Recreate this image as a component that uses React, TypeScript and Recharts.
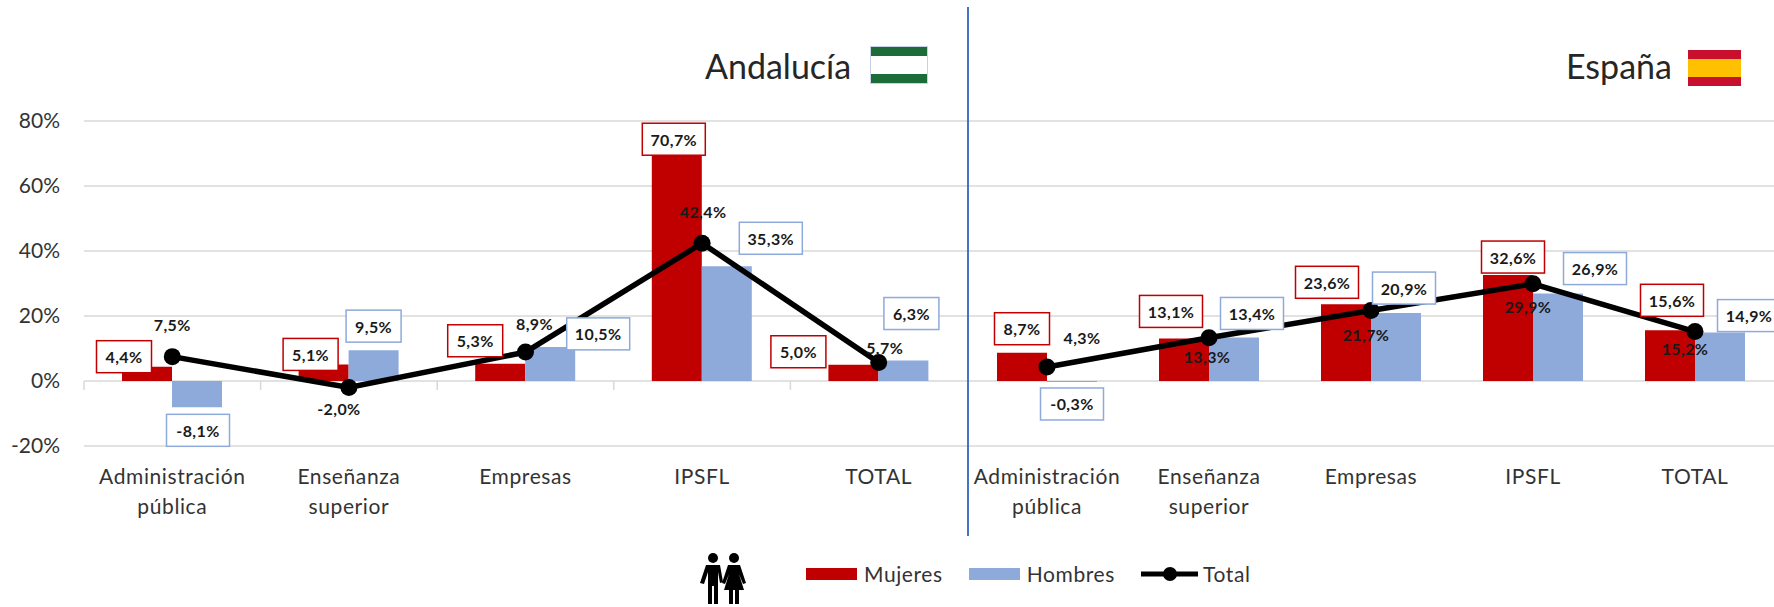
import {
  Bar,
  CartesianGrid,
  ComposedChart,
  LabelList,
  Legend,
  Line,
  XAxis,
  YAxis,
} from "recharts";

const categories = ["Administración pública", "Enseñanza superior", "Empresas", "IPSFL", "TOTAL"];
const yTicks = [-20, 0, 20, 40, 60, 80];
const legendOrder = ["Mujeres", "Hombres", "Total"];

const andaluciaMujeres = [4.4, 5.1, 5.3, 70.7, 5.0];
const andaluciaHombres = [-8.1, 9.5, 10.5, 35.3, 6.3];
const andaluciaTotal = [7.5, -2.0, 8.9, 42.4, 5.7];

const espanaMujeres = [8.7, 13.1, 23.6, 32.6, 15.6];
const espanaHombres = [-0.3, 13.4, 20.9, 26.9, 14.9];
const espanaTotal = [4.3, 13.3, 21.7, 29.9, 15.2];

// the labels were moved by hand in the original, so each one has its own nudge
const andaluciaNudges = {
  mujeres: [[-23, -10], [-13, -10], [-25, -23], [-3, -12], [-55, -13]],
  hombres: [[1, 23], [0, -24], [48, -13], [44, -28], [8, -47]],
  total: [[0, -32], [-10, 21], [9, -29], [1, -32], [6, -15]],
};
const espanaNudges = {
  mujeres: [[0, -24], [-13, -27], [-19, -22], [5, -18], [2, -30]],
  hombres: [[0, 22], [18, -24], [8, -25], [37, -25], [29, -17]],
  total: [[35, -30], [-2, 19], [-5, 24], [-5, 23], [-10, 17]],
};

const RED = "#C00000";
const BLUE = "#8EAADB";
const FONT = "Lato, sans-serif";
const PLOT_TOP = 121;
const PLOT_BOTTOM = 446;
const ZERO_Y = PLOT_BOTTOM - 65;
const AXIS_HEIGHT = 70;

const pct = (v: number) => v.toFixed(1).replace(".", ",") + "%";

function buildRows(m: number[], h: number[], t: number[]) {
  return categories.map((name, i) => ({ name, Mujeres: m[i], Hombres: h[i], Total: t[i] }));
}

function DataLabel(props: any) {
  const { x, y, width, height, value, index, nudges, color } = props;
  const w = width || 0;
  const hh = height || 0;
  const end = value < 0 ? Math.max(y, y + hh) : Math.min(y, y + hh);
  const cx = x + w / 2 + nudges[index][0];
  const cy = end + nudges[index][1];
  const text = pct(value);
  const boxW = 23 + 8 * text.length;
  return (
    <g>
      {color && (
        <rect x={cx - boxW / 2} y={cy - 16} width={boxW} height={32} fill="#fff" stroke={color} strokeWidth={1.5} />
      )}
      <text
        x={cx}
        y={cy}
        textAnchor="middle"
        dominantBaseline="central"
        fontFamily={FONT}
        fontWeight={700}
        fontSize={16}
        letterSpacing={0.4}
        fill="#1a1a1a"
      >
        {text}
      </text>
    </g>
  );
}

function CategoryTick(props: any) {
  const { x, payload, step, boundaries } = props;
  const words = payload.value.split(" ");
  return (
    <g>
      {boundaries && (
        <line x1={x - step / 2} x2={x - step / 2} y1={ZERO_Y} y2={ZERO_Y + 9} stroke="#D9D9D9" strokeWidth={1.5} />
      )}
      {words.map((w: string, i: number) => (
        <text
          key={w}
          x={x}
          y={PLOT_BOTTOM + 29 + i * 30}
          textAnchor="middle"
          dominantBaseline="central"
          fontFamily={FONT}
          fontSize={21}
          letterSpacing={0.6}
          fill="#333"
        >
          {w}
        </text>
      ))}
    </g>
  );
}

function LegendItems({ payload }: any) {
  return (
    <div style={{ display: "flex", alignItems: "center", fontFamily: FONT, fontSize: 21, color: "#333", letterSpacing: 0.6 }}>
      {(payload || []).map((entry: any) => (
        <div key={entry.value} style={{ display: "flex", alignItems: "center", marginRight: 26 }}>
          {entry.type === "line" ? (
            <svg width={57} height={18} style={{ marginRight: 5 }}>
              <line x1={0} x2={57} y1={9} y2={9} stroke="#000" strokeWidth={5} />
              <circle cx={29} cy={9} r={7} fill="#000" />
            </svg>
          ) : (
            <div style={{ width: 51, height: 12, background: entry.color, marginRight: 7 }} />
          )}
          <span>{entry.value}</span>
        </div>
      ))}
    </div>
  );
}

function Panel(props: any) {
  const { rows, nudges, width, left, step, showAxis, showLegend } = props;
  return (
    <div style={{ position: "absolute", left, top: 0 }}>
      <ComposedChart
        width={width}
        height={607}
        data={rows}
        barGap={0}
        margin={{ top: PLOT_TOP, right: 0, bottom: 607 - PLOT_BOTTOM - AXIS_HEIGHT, left: 0 }}
      >
        <CartesianGrid vertical={false} stroke="#D9D9D9" strokeWidth={1.5} />
        <XAxis
          dataKey="name"
          interval={0}
          axisLine={false}
          tickLine={false}
          height={AXIS_HEIGHT}
          tick={<CategoryTick step={step} boundaries={showAxis} />}
        />
        <YAxis
          hide={!showAxis}
          width={showAxis ? 84 : 0}
          domain={[-20, 80]}
          ticks={yTicks}
          interval={0}
          axisLine={false}
          tickLine={false}
          tickMargin={18}
          tickFormatter={(v: number) => `${v}%`}
          tick={{ fontFamily: FONT, fontSize: 21, fill: "#333" }}
        />
        {showLegend && (
          <Legend
            verticalAlign="middle"
            content={<LegendItems />}
            itemSorter={(item: any) => legendOrder.indexOf(item.value)}
            wrapperStyle={{ position: "absolute", left: 806, top: 561, width: 500, height: 26, bottom: "auto" }}
          />
        )}
        <Bar dataKey="Mujeres" fill={RED} barSize={50} isAnimationActive={false}>
          <LabelList dataKey="Mujeres" content={<DataLabel nudges={nudges.mujeres} color={RED} />} />
        </Bar>
        <Bar dataKey="Hombres" fill={BLUE} barSize={50} isAnimationActive={false}>
          <LabelList dataKey="Hombres" content={<DataLabel nudges={nudges.hombres} color={BLUE} />} />
        </Bar>
        <Line
          dataKey="Total"
          type="linear"
          stroke="#000"
          strokeWidth={5.5}
          dot={{ r: 8.5, fill: "#000", stroke: "#000", strokeWidth: 0 }}
          activeDot={false}
          isAnimationActive={false}
        >
          <LabelList dataKey="Total" content={<DataLabel nudges={nudges.total} />} />
        </Line>
      </ComposedChart>
    </div>
  );
}

function PeopleIcon() {
  return (
    <svg width={48} height={54} viewBox="0 0 48 54" style={{ position: "absolute", left: 699, top: 552 }}>
      <circle cx={14} cy={6} r={5} />
      <circle cx={35} cy={6} r={5} />
      <path d="M7 13 H21 L24 30 L21 31 L19 20 V52 H15 V34 H13 V52 H9 V20 L5 32 L1 31 Z" />
      <path d="M29 13 H41 L47 31 L44 32 L40 22 L45 38 H40 V52 H36 V38 H34 V52 H30 V38 H25 L30 22 L26 32 L23 31 Z" />
    </svg>
  );
}

function Flag({ left, top, width, height, outer, inner, stripe, edge }: any) {
  return (
    <div style={{ position: "absolute", left, top, width, height, background: outer, outline: edge ? `1px solid ${edge}` : "none" }}>
      <div style={{ position: "absolute", left: 0, right: 0, top: stripe, bottom: stripe, background: inner }} />
    </div>
  );
}

const titleStyle = { position: "absolute", fontFamily: FONT, fontSize: 34, color: "#262626", lineHeight: "40px", top: 46 } as const;

export default function App() {
  return (
    <div style={{ position: "absolute", left: 0, top: 0, width: 1774, height: 607, overflow: "hidden", background: "#fff" }}>
      <Panel
        rows={buildRows(andaluciaMujeres, andaluciaHombres, andaluciaTotal)}
        nudges={andaluciaNudges}
        left={0}
        width={967}
        step={176.6}
        showAxis
        showLegend
      />
      <Panel
        rows={buildRows(espanaMujeres, espanaHombres, espanaTotal)}
        nudges={espanaNudges}
        left={966}
        width={810}
        step={162}
      />
      <div style={{ position: "absolute", left: 967, top: 7, width: 1.5, height: 529, background: "#4472C4" }} />
      <div style={{ ...titleStyle, left: 705 }}>Andalucía</div>
      <Flag left={871} top={47} width={56} height={36} outer="#1E6B3A" inner="#fff" stripe={9} edge="#C5D3EA" />
      <div style={{ ...titleStyle, left: 1566 }}>España</div>
      <Flag left={1688} top={50} width={53} height={36} outer="#C8102E" inner="#FFC000" stripe={9} />
      <PeopleIcon />
    </div>
  );
}
